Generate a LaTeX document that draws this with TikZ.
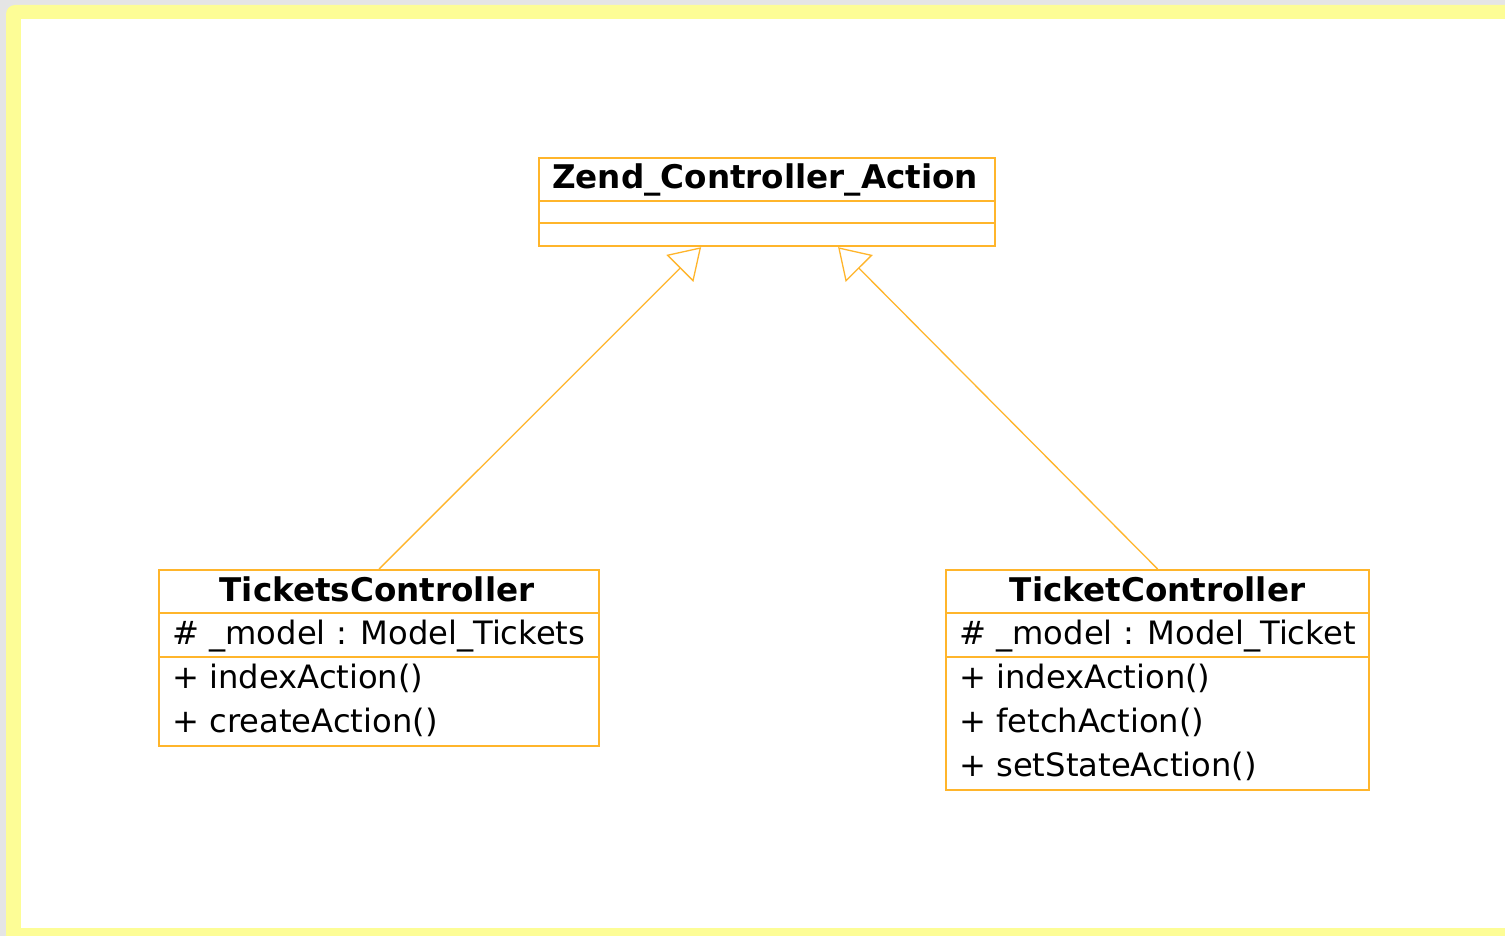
\documentclass[tikz,border=0pt]{standalone}
\usepackage{fontspec}
\setmainfont{DejaVu Sans}
\usetikzlibrary{arrows.meta,calc}
\definecolor{umlorange}{RGB}{255,181,43}
\definecolor{frameyellow}{RGB}{253,253,150}
\definecolor{deskgrey}{RGB}{229,229,229}
\tikzset{
  classbox/.style={draw=umlorange, line width=2.2pt, fill=white, anchor=north west,
    inner sep=0pt, minimum width=#1},
  sepline/.style={draw=umlorange, line width=2.2pt},
  classname/.style={anchor=base, inner sep=0pt, font=\fontsize{32.6}{44}\selectfont\bfseries},
  member/.style={anchor=base west, inner sep=0pt, font=\fontsize{32.2}{44}\selectfont},
  generalization/.style={draw=umlorange, line width=1.3pt,
    -{Triangle[open, length=30pt, width=38pt, fill=white]}}
}
\begin{document}
\begin{tikzpicture}[x=1pt, y=1pt]
  \useasboundingbox (0,0) rectangle (1505,-936);
  % window background and yellow frame
  \fill[deskgrey] (0,0) rectangle (1505,-936);
  \begin{scope}
    \clip (0,0) rectangle (1505,-936);
    \fill[frameyellow, rounded corners=9pt] (6,-5) rectangle (1540,-970);
  \end{scope}
  \fill[white] (21,-19) rectangle (1505,-928);

  % Zend_Controller_Action
  \node[classbox=456pt, minimum height=88pt] (zend) at (538,-157) {};
  \draw[sepline] ($(zend.north west)+(0,-44)$) -- ($(zend.north east)+(0,-44)$);
  \draw[sepline] ($(zend.north west)+(0,-66)$) -- ($(zend.north east)+(0,-66)$);
  \node[classname] (zendname) at ($(zend.north)+(-2,-32)$) {Zend\_Controller\_Action};

  % TicketsController
  \node[classbox=440pt, minimum height=176pt] (tickets) at (158,-569) {};
  \draw[sepline] ($(tickets.north west)+(0,-44)$) -- ($(tickets.north east)+(0,-44)$);
  \draw[sepline] ($(tickets.north west)+(0,-88)$) -- ($(tickets.north east)+(0,-88)$);
  \node[classname] (ticketsname) at ($(tickets.north)+(-2,-32)$) {TicketsController};
  \node[member] (ticketsattr) at ($(tickets.north west)+(14,-75)$) {\# \_model : Model\_Tickets};
  \node[member] (ticketsm1) at ($(tickets.north west)+(14,-119)$) {+ indexAction()};
  \node[member] (ticketsm2) at ($(tickets.north west)+(14,-163)$) {+ createAction()};

  % TicketController
  \node[classbox=423pt, minimum height=220pt] (ticket) at (945,-569) {};
  \draw[sepline] ($(ticket.north west)+(0,-44)$) -- ($(ticket.north east)+(0,-44)$);
  \draw[sepline] ($(ticket.north west)+(0,-88)$) -- ($(ticket.north east)+(0,-88)$);
  \node[classname] (ticketname) at ($(ticket.north)+(0,-32)$) {TicketController};
  \node[member] (ticketattr) at ($(ticket.north west)+(14,-75)$) {\# \_model : Model\_Ticket};
  \node[member] (ticketm1) at ($(ticket.north west)+(14,-119)$) {+ indexAction()};
  \node[member] (ticketm2) at ($(ticket.north west)+(14,-163)$) {+ fetchAction()};
  \node[member] (ticketm3) at ($(ticket.north west)+(14,-207)$) {+ setStateAction()};

  % generalizations
  \coordinate (zendleft) at ($(zend.south)+(-66,0)$);
  \coordinate (zendright) at ($(zend.south)+(71,0)$);
  \draw[generalization] (tickets.north) -- (zendleft);
  \draw[generalization] (ticket.north) -- (zendright);
\end{tikzpicture}
\end{document}
